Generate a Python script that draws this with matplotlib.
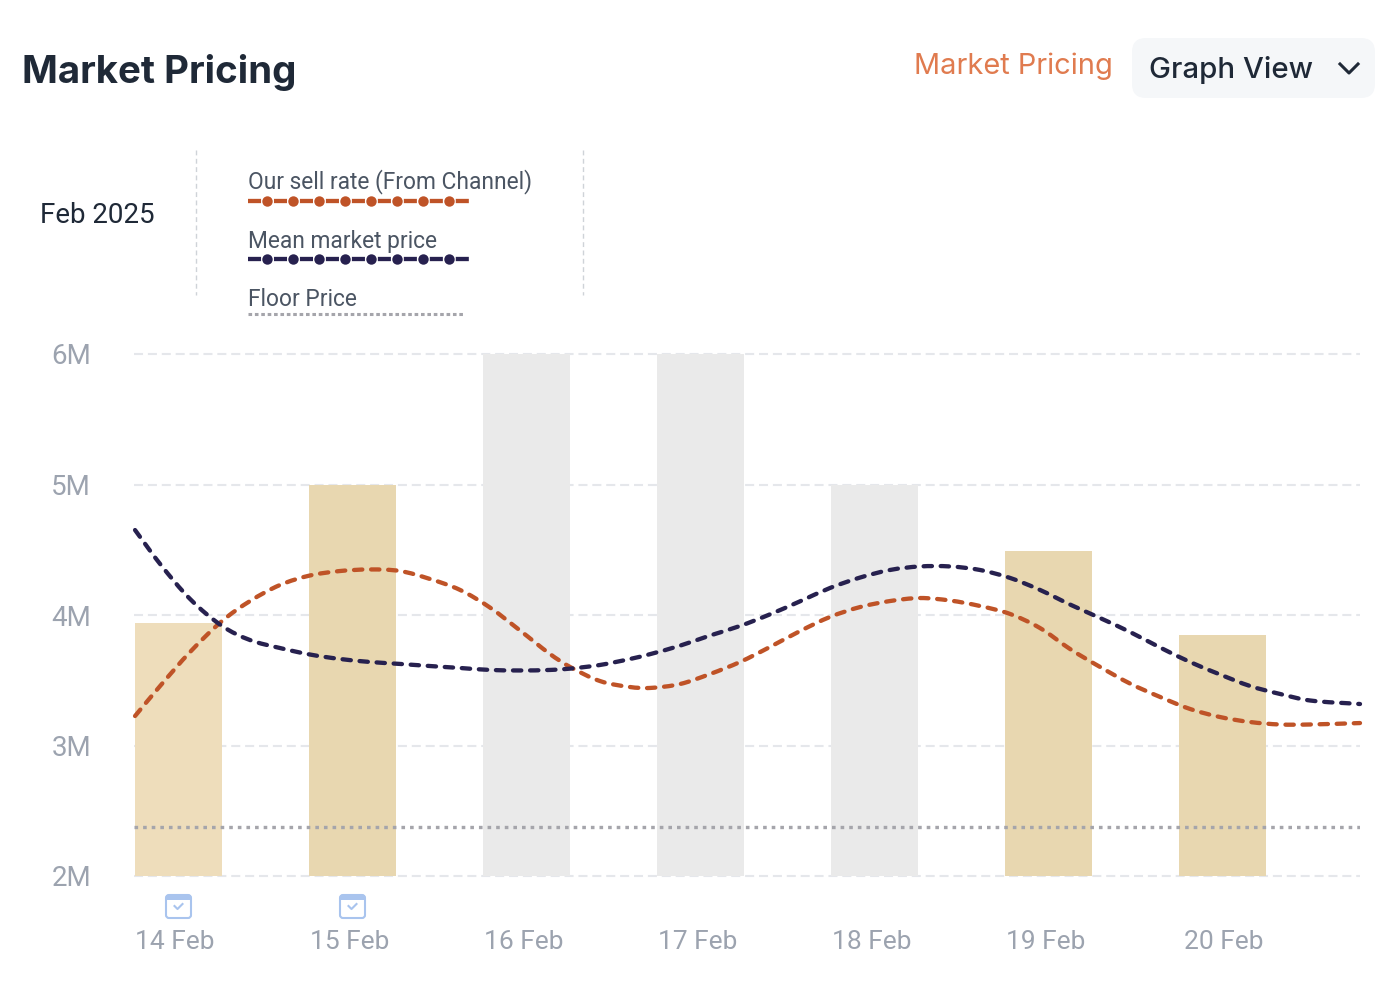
import matplotlib
matplotlib.use('Agg')
import matplotlib.pyplot as plt
from matplotlib.patches import FancyBboxPatch, PathPatch, Rectangle
from matplotlib.path import Path

plt.rcParams['font.family'] = ['Roboto', 'DejaVu Sans']
plt.rcParams['lines.scale_dashes'] = False

days = ['14 Feb', '15 Feb', '16 Feb', '17 Feb', '18 Feb', '19 Feb', '20 Feb']
bar_values = [3.94, 5.0, 6.0, 6.0, 5.0, 4.49, 3.85]
bar_colors = ['#EEDDBB', '#E8D7B0', '#EAEAEA', '#EAEAEA', '#EAEAEA', '#E8D7B0', '#E8D7B0']
y_ticks = [2, 3, 4, 5, 6]
y_labels = ['2M', '3M', '4M', '5M', '6M']
floor_price = 2.375

# day position of each reading, 0 is 14 Feb
curve_x = [-0.25, -0.106, 0.066, 0.25, 0.411, 0.583, 0.756, 0.928, 1.101, 1.273, 1.445,
           1.618, 1.79, 1.963, 2.135, 2.25, 2.422, 2.595, 2.71, 2.882, 3.055, 3.227,
           3.399, 3.572, 3.744, 3.917, 4.089, 4.261, 4.434, 4.606, 4.779, 4.951, 5.124,
           5.296, 5.468, 5.641, 5.813, 5.986, 6.158, 6.33, 6.503, 6.79]
sell_rate = [3.226, 3.456, 3.716, 3.954, 4.107, 4.23, 4.303, 4.337, 4.349, 4.337, 4.276,
             4.192, 4.057, 3.881, 3.701, 3.602, 3.494, 3.448, 3.441, 3.471, 3.548, 3.64,
             3.755, 3.877, 3.985, 4.061, 4.107, 4.13, 4.111, 4.069, 4.008, 3.9, 3.739,
             3.602, 3.475, 3.372, 3.28, 3.218, 3.18, 3.161, 3.161, 3.172]
mean_price = [4.651, 4.391, 4.123, 3.916, 3.808, 3.747, 3.697, 3.663, 3.64, 3.625, 3.609,
              3.594, 3.579, 3.575, 3.579, 3.589, 3.617, 3.663, 3.7, 3.765, 3.843, 3.916,
              4.005, 4.105, 4.207, 4.287, 4.345, 4.372, 4.372, 4.345, 4.284, 4.192, 4.08,
              3.977, 3.87, 3.751, 3.64, 3.544, 3.456, 3.395, 3.345, 3.318]

ORANGE = '#BF5327'
NAVY = '#27214F'
FLOOR = '#A5A5AB'
W, H = 1398, 998


def smooth_path(xs, ys):
    # bezier segments through the readings, so the dashes do not show corners
    n = len(xs)
    slopes = []
    for i in range(n):
        a, b = max(i - 1, 0), min(i + 1, n - 1)
        slopes.append((ys[b] - ys[a]) / (xs[b] - xs[a]))
    verts = [(xs[0], ys[0])]
    codes = [Path.MOVETO]
    for i in range(n - 1):
        dx = (xs[i + 1] - xs[i]) / 3
        verts += [(xs[i] + dx, ys[i] + slopes[i] * dx),
                  (xs[i + 1] - dx, ys[i + 1] - slopes[i + 1] * dx),
                  (xs[i + 1], ys[i + 1])]
        codes += [Path.CURVE4] * 3
    return Path(verts, codes)


fig = plt.figure(figsize=(W / 100, H / 100), dpi=100, facecolor='white')
ax = fig.add_axes([134 / W, 1 - 876 / H, (1360 - 134) / W, (876 - 354) / H])

positions = list(range(len(days)))
ax.bar(positions, [v - 2 for v in bar_values], bottom=2, width=0.5, color=bar_colors, zorder=2)
ax.axhline(floor_price, color=FLOOR, lw=2.4, dashes=(2.6, 3.6), zorder=3)
for values, color, z in [(sell_rate, ORANGE, 4), (mean_price, NAVY, 5)]:
    ax.add_patch(PathPatch(smooth_path(curve_x, values), fc='none', ec=color, lw=3.1,
                           ls=(0, (6.0, 6.3)), capstyle='round', zorder=z, clip_on=False))

ax.set_xlim(-0.256, 6.79)
ax.set_ylim(2, 6)
ax.set_yticks(y_ticks)
ax.set_yticklabels(y_labels)
ax.set_xticks([-0.02, 0.983, 1.986, 2.986, 3.986, 4.986, 6.009])
ax.set_xticklabels(days)
ax.tick_params(axis='y', length=0, pad=31, labelsize=20, labelcolor='#9CA3AF')
ax.tick_params(axis='x', length=0, pad=38.7, labelsize=19, labelcolor='#9CA3AF')
ax.grid(axis='y', color='#E5E7EB', lw=1.5, dashes=(6.5, 3.5), zorder=1, clip_on=False)
ax.set_axisbelow(True)
for _, spine in ax.spines.items():
    spine.set_visible(False)

# page furniture in pixel coordinates
ui = fig.add_axes([0, 0, 1, 1], facecolor='none')
ui.set_xlim(0, W)
ui.set_ylim(H, 0)
ui.axis('off')

ui.text(22, 72, 'Market Pricing', family='Inter', fontsize=27.7, fontweight='bold',
        color='#1F2937', va='center')
ui.text(914, 66, 'Market Pricing', family='Inter', fontsize=20.9, color='#E07B4F', va='center')
ui.add_patch(FancyBboxPatch((1132, 38), 243, 60, boxstyle='round,pad=0,rounding_size=14',
                            fc='#F5F7F9', ec='none'))
ui.text(1149, 70, 'Graph View', family='Inter', fontsize=21.2, fontweight='medium',
        color='#1F2937', va='center')
ui.plot([1340, 1349, 1358], [64, 73, 64], color='#1F2937', lw=2.2)

ui.text(40, 215, 'Feb 2025', fontsize=20, color='#1F2937', va='center')
for x in [195.5, 583]:
    ui.plot([x, x], [150, 295], color='#CFD3D8', lw=1, dashes=(3.5, 2.5))

legend_text = ['Our sell rate (From Channel)', 'Mean market price', 'Floor Price']
legend_y = [182, 241, 299]
for label, y in zip(legend_text, legend_y):
    ui.text(248, y, label, fontsize=16.4, color='#4B5563', va='center')

for color, y in [(ORANGE, 200.5), (NAVY, 259)]:
    ui.plot([248, 470], [y, y], color=color, lw=3.1, dashes=(9.4, 9.3), dash_capstyle='butt')
    ui.plot(range(267, 450, 26), [y] * 8, ls='none', marker='o', ms=7.5, mfc=color, mec='none')
ui.plot([248, 465], [313.5, 313.5], color=FLOOR, lw=2.2, dashes=(2.6, 2.0), dash_capstyle='butt')

# calendar icons under the first two days
for x in [178.5, 352.5]:
    ui.add_patch(FancyBboxPatch((x - 12.5, 895), 25, 23, boxstyle='round,pad=0,rounding_size=3',
                                fc='white', ec='#A9C4EE', lw=1.5))
    ui.add_patch(Rectangle((x - 12.5, 895), 25, 5, fc='#A9C4EE', ec='none'))
    ui.plot([x - 4, x - 1, x + 4], [906, 909, 904], color='#A9C4EE', lw=1.5)

fig.savefig('out.png', dpi=100)
